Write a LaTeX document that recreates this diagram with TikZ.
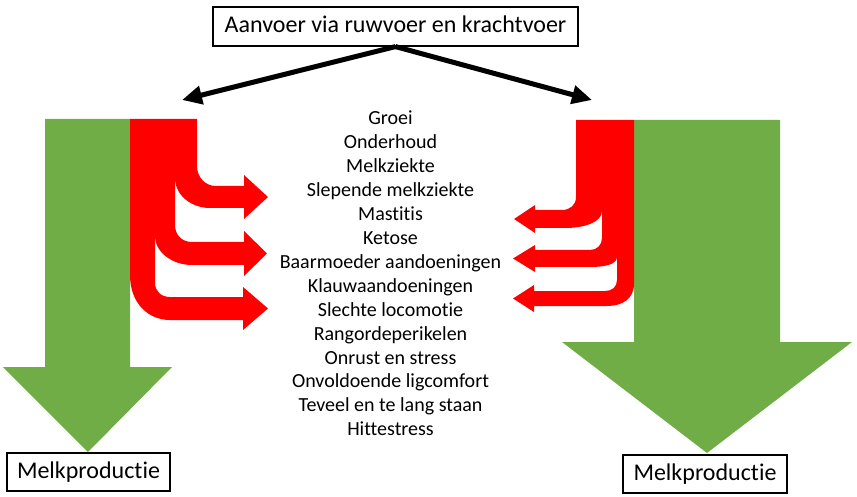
\documentclass[tikz,border=0pt]{standalone}
\usepackage{fontspec}
\setmainfont[Ligatures={NoCommon}]{Carlito}
\usetikzlibrary{arrows.meta}
\definecolor{grn}{HTML}{70AD47}
\definecolor{rd}{HTML}{FF0000}
\begin{document}
\begin{tikzpicture}[x=1pt,y=-1pt,
  box/.style={draw, line width=1.2pt, font=\fontsize{24}{28}\selectfont,
    text height=17.6pt, text depth=5pt, inner sep=0pt},
  lbl/.style={font=\fontsize{20}{24}\selectfont, anchor=base, inner sep=0pt},
  grnarrow/.style={fill=grn},
  redband/.style={fill=rd},
  feed/.style={line width=5pt, -{Triangle[length=20pt,width=18pt]}}]
\useasboundingbox (0,0) rectangle (857,497);

% boxes
\node[box, minimum width=365pt, minimum height=39pt] (top) at (395.5,26.5) {Aanvoer via ruwvoer en krachtvoer};
\node[box, minimum width=163pt, minimum height=38pt] (mpl) at (88.5,472) {Melkproductie};
\node[box, minimum width=164pt, minimum height=38pt] (mpr) at (705,474) {Melkproductie};

% feed arrows
\coordinate (lt) at (182,100);
\coordinate (rt) at (592,100);
\draw[feed] (top.south) -- (lt);
\draw[feed] (top.south) -- (rt);

% green arrows
\fill[grnarrow] (45,119) -- (130,119) -- (130,367) -- (172,367) -- (88,452) -- (3,367) -- (45,367) -- cycle;
\fill[grnarrow] (634,120) -- (780,120) -- (780,342) -- (852,342) -- (707,453) -- (562,342) -- (634,342) -- cycle;

% left red bands
\fill[redband] (175,119) -- (197,119) -- (197,166) .. controls (197,177) and (205,186) .. (216,186)
  -- (244,186) -- (244,175) -- (268,197) -- (244,219) -- (244,208) -- (210,208)
  .. controls (191,208) and (175,195) .. (175,178) -- cycle;
\fill[redband] (155,119) -- (175,119) -- (175,225) .. controls (175,234) and (181,242) .. (192,242)
  -- (244,242) -- (244,231) -- (267,253.5) -- (244,276) -- (244,265) -- (192,265)
  .. controls (172,265) and (155,252) .. (155,236) -- cycle;
\fill[redband] (130,119) -- (155,119) -- (155,283) .. controls (155,291) and (161,297) .. (170,297)
  -- (243,297) -- (243,287) -- (268,308.5) -- (243,330) -- (243,320) -- (170,320)
  .. controls (148,320) and (130,303) .. (130,275) -- cycle;

% right red bands
\fill[redband] (602,120) -- (576,120) -- (576,197) .. controls (576,205) and (570,210) .. (562,210)
  -- (535,210) -- (535,205) -- (514,219) -- (535,233) -- (535,228) -- (565,228)
  .. controls (585,228) and (602,222) .. (602,211) -- cycle;
\fill[redband] (617,120) -- (602,120) -- (602,238) .. controls (602,245) and (597,250) .. (590,250)
  -- (535,250) -- (535,245) -- (513,258.5) -- (535,272) -- (535,267) -- (590,267)
  .. controls (606,267) and (617,264) .. (617,257) -- cycle;
\fill[redband] (634,120) -- (617,120) -- (617,280) .. controls (617,287) and (612,291) .. (605,291)
  -- (534,291) -- (534,285) -- (513,298.5) -- (534,312) -- (534,306) -- (607,306)
  .. controls (622,306) and (634,299) .. (634,284) -- cycle;

% middle list
\foreach \t [count=\i from 0] in {Groei, Onderhoud, Melkziekte, Slepende melkziekte, Mastitis,
  Ketose, Baarmoeder aandoeningen, Klauwaandoeningen, Slechte locomotie, Rangordeperikelen,
  Onrust en stress, Onvoldoende ligcomfort, Teveel en te lang staan, Hittestress}
  \node[lbl] (t\i) at (390.5,124.5+23.95*\i) {\t};
\end{tikzpicture}
\end{document}
